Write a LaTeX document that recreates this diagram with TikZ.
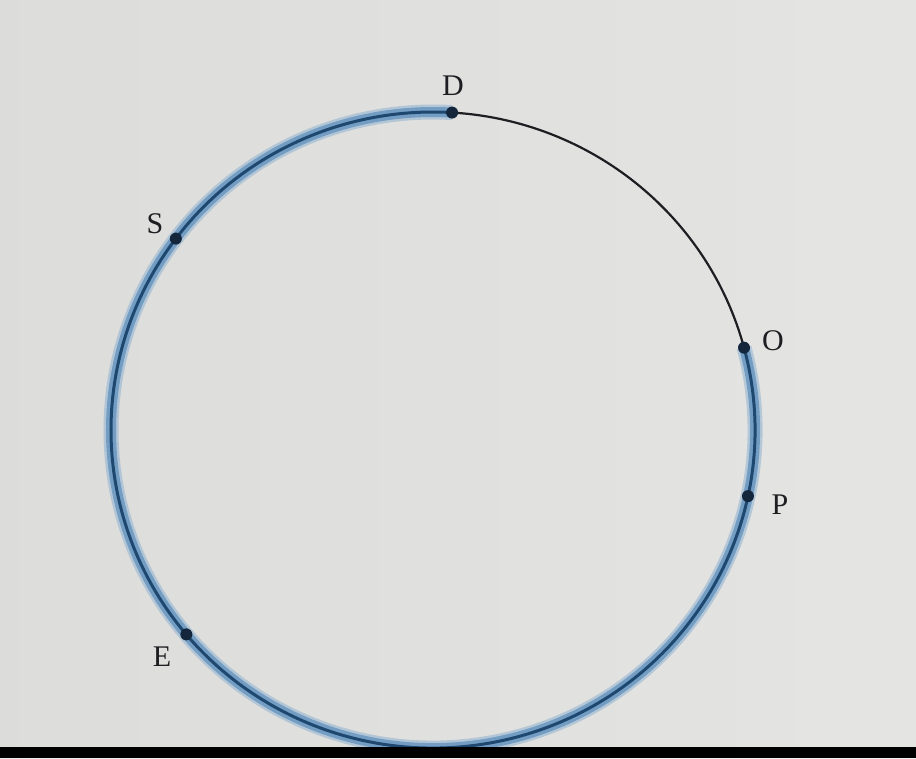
\documentclass[tikz,border=0pt]{standalone}
\usepackage{fontspec}
\setmainfont{Liberation Serif}
\usetikzlibrary{calc}
\definecolor{bgcol}{RGB}{228,228,225}
\definecolor{glow}{RGB}{104,150,192}
\definecolor{glowsoft}{RGB}{150,182,210}
\definecolor{core}{RGB}{30,72,112}
\definecolor{ink}{RGB}{30,30,34}
\definecolor{dotcol}{RGB}{20,38,60}
\tikzset{
  softarc/.style={draw=glowsoft, line width=15pt, opacity=0.6},
  glowarc/.style={draw=glow, line width=10pt, opacity=0.85},
  corearc/.style={draw=core, line width=3pt},
  thinarc/.style={draw=ink, line width=2.2pt},
  ptdot/.style={circle, fill=dotcol, inner sep=0pt, minimum size=12pt},
  lbl/.style={font=\fontsize{30}{30}\selectfont, text=ink, inner sep=0pt}
}
\begin{document}
\begin{tikzpicture}[x=1pt,y=1pt]
\useasboundingbox (0,0) rectangle (916,758);
\fill[bgcol] (0,0) rectangle (916,758);
\shade[left color=black!16, right color=white!90!black, opacity=0.5] (0,0) rectangle (916,758);
% ellipse: center (433, 758-430=328), rx 322, ry 318
\coordinate (C) at (433,328);
\coordinate (D) at ($(C)+(86.6:322 and 318)$);
\coordinate (S) at ($(C)+(143:322 and 318)$);
\coordinate (O) at ($(C)+(15:322 and 318)$);
\coordinate (P) at ($(C)+(-12:322 and 318)$);
\coordinate (E) at ($(C)+(220:322 and 318)$);
% thin black arc D -> O
\draw[thinarc] (D) arc[start angle=86.6, end angle=15, x radius=322, y radius=318];
% highlighted arc O -> (clockwise) -> D
\draw[softarc] (O) arc[start angle=15, end angle=-273.4, x radius=322, y radius=318];
\draw[glowarc] (O) arc[start angle=15, end angle=-273.4, x radius=322, y radius=318];
\draw[corearc] (O) arc[start angle=15, end angle=-273.4, x radius=322, y radius=318];
% points
\foreach \p in {D,S,O,P,E} \node[ptdot] (\p dot) at (\p) {};
% labels
\node[lbl] (Dl) at (453,672) {D};
\node[lbl] (Sl) at (155,534) {S};
\node[lbl] (Ol) at (773,417) {O};
\node[lbl] (Pl) at (780,253) {P};
\node[lbl] (El) at (162,101) {E};
% bottom black bar of the photo
\fill[black] (0,0) rectangle (916,11);
\end{tikzpicture}
\end{document}
